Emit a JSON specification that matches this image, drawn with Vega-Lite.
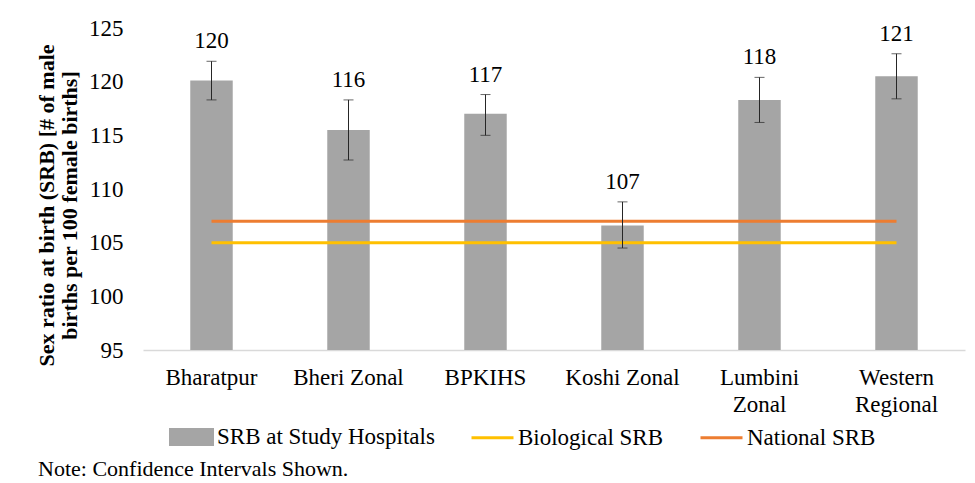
{
  "$schema": "https://vega.github.io/schema/vega-lite/v6.json",
  "autosize": {"type": "none"},
  "width": 822,
  "height": 322,
  "padding": {"left": 143, "top": 28, "right": 10, "bottom": 133},
  "background": "white",
  "config": {
    "font": "Liberation Serif",
    "view": {"stroke": null},
    "axis": {"labelColor": "black", "titleColor": "black", "labelFont": "Liberation Serif", "titleFont": "Liberation Serif"},
    "legend": {"labelFont": "Liberation Serif"},
    "title": {"font": "Liberation Serif"}
  },
  "title": {
    "text": "Note: Confidence Intervals Shown.",
    "orient": "bottom",
    "anchor": "start",
    "frame": "group",
    "dx": -105,
    "offset": 8,
    "fontSize": 22,
    "fontWeight": "normal",
    "color": "black"
  },
  "datasets": {
    "hosp": [
      {"hospital": "Bharatpur", "srb": 120.1, "lower": 118.3, "upper": 121.9, "label": "120"},
      {"hospital": "Bheri Zonal", "srb": 115.5, "lower": 112.7, "upper": 118.3, "label": "116"},
      {"hospital": "BPKIHS", "srb": 117.0, "lower": 115.0, "upper": 118.8, "label": "117"},
      {"hospital": "Koshi Zonal", "srb": 106.6, "lower": 104.5, "upper": 108.8, "label": "107"},
      {"hospital": "Lumbini Zonal", "srb": 118.3, "lower": 116.2, "upper": 120.4, "label": "118"},
      {"hospital": "Western Regional", "srb": 120.5, "lower": 118.4, "upper": 122.6, "label": "121"}
    ],
    "refs": [
      {"hospital": "Bharatpur", "series": "Biological SRB", "value": 105},
      {"hospital": "Bheri Zonal", "series": "Biological SRB", "value": 105},
      {"hospital": "BPKIHS", "series": "Biological SRB", "value": 105},
      {"hospital": "Koshi Zonal", "series": "Biological SRB", "value": 105},
      {"hospital": "Lumbini Zonal", "series": "Biological SRB", "value": 105},
      {"hospital": "Western Regional", "series": "Biological SRB", "value": 105},
      {"hospital": "Bharatpur", "series": "National SRB", "value": 107},
      {"hospital": "Bheri Zonal", "series": "National SRB", "value": 107},
      {"hospital": "BPKIHS", "series": "National SRB", "value": 107},
      {"hospital": "Koshi Zonal", "series": "National SRB", "value": 107},
      {"hospital": "Lumbini Zonal", "series": "National SRB", "value": 107},
      {"hospital": "Western Regional", "series": "National SRB", "value": 107}
    ]
  },
  "encoding": {
    "x": {
      "field": "hospital",
      "type": "nominal",
      "sort": ["Bharatpur", "Bheri Zonal", "BPKIHS", "Koshi Zonal", "Lumbini Zonal", "Western Regional"],
      "scale": {"paddingInner": 0.69, "paddingOuter": 0.345},
      "axis": {
        "title": null,
        "labelAngle": 0,
        "labelFontSize": 23,
        "labelPadding": 16,
        "labelLineHeight": 27,
        "ticks": false,
        "domainColor": "#D9D9D9",
        "domainWidth": 1.5,
        "labelExpr": "datum.value == 'Lumbini Zonal' ? ['Lumbini', 'Zonal'] : datum.value == 'Western Regional' ? ['Western', 'Regional'] : datum.label"
      }
    }
  },
  "layer": [
    {
      "data": {"name": "hosp"},
      "mark": {"type": "bar", "color": "#A5A5A5", "clip": true},
      "encoding": {
        "y": {
          "field": "srb",
          "type": "quantitative",
          "scale": {"domain": [95, 125], "zero": false, "nice": false},
          "axis": {
            "values": [95, 100, 105, 110, 115, 120, 125],
            "grid": false,
            "domain": false,
            "ticks": false,
            "labelFontSize": 23,
            "labelPadding": 20,
            "title": ["Sex ratio at birth (SRB) [# of male", "births per 100 female births]"],
            "titleFontSize": 22,
            "titleFontWeight": "bold",
            "titlePadding": 7,
            "titleLineHeight": 23,
            "titleY": 177
          }
        },
        "color": {
          "datum": "SRB at Study Hospitals",
          "type": "nominal",
          "scale": {
            "domain": ["SRB at Study Hospitals", "Biological SRB", "National SRB"],
            "range": ["#A5A5A5", "#FFC000", "#ED7D31"]
          },
          "legend": {
            "title": null,
            "orient": "none",
            "direction": "horizontal",
            "legendX": 26,
            "legendY": 386,
            "padding": 0,
            "columnPadding": 30,
            "labelFontSize": 23,
            "labelColor": "black",
            "labelLimit": 0,
            "labelOffset": 3,
            "symbolSize": 1764,
            "symbolStrokeWidth": 3,
            "encode": {
              "symbols": {
                "update": {
                  "shape": {"signal": "datum.value === 'SRB at Study Hospitals' ? 'M-1,-0.36H1V0.36H-1Z' : 'M-1,0H1'"},
                  "fill": {"signal": "datum.value === 'SRB at Study Hospitals' ? '#A5A5A5' : 'transparent'"},
                  "stroke": {"signal": "datum.value === 'Biological SRB' ? '#FFC000' : datum.value === 'National SRB' ? '#ED7D31' : 'transparent'"},
                  "strokeWidth": {"value": 3},
                  "opacity": {"value": 1}
                }
              }
            }
          }
        }
      }
    },
    {
      "data": {"name": "refs"},
      "mark": {"type": "line", "strokeWidth": 3},
      "encoding": {
        "y": {"field": "value", "type": "quantitative"},
        "color": {"field": "series", "type": "nominal", "title": null}
      }
    },
    {
      "data": {"name": "hosp"},
      "mark": {"type": "rule", "color": "#262626", "strokeWidth": 1},
      "encoding": {
        "y": {"field": "lower", "type": "quantitative"},
        "y2": {"field": "upper"}
      }
    },
    {
      "data": {"name": "hosp"},
      "mark": {"type": "tick", "color": "#262626", "size": 10, "thickness": 1, "orient": "horizontal"},
      "encoding": {
        "y": {"field": "lower", "type": "quantitative"}
      }
    },
    {
      "data": {"name": "hosp"},
      "mark": {"type": "tick", "color": "#262626", "size": 10, "thickness": 1, "orient": "horizontal"},
      "encoding": {
        "y": {"field": "upper", "type": "quantitative"}
      }
    },
    {
      "data": {"name": "hosp"},
      "mark": {"type": "text", "baseline": "middle", "dy": -20, "fontSize": 23, "color": "black"},
      "encoding": {
        "y": {"field": "upper", "type": "quantitative"},
        "text": {"field": "label"}
      }
    }
  ]
}
